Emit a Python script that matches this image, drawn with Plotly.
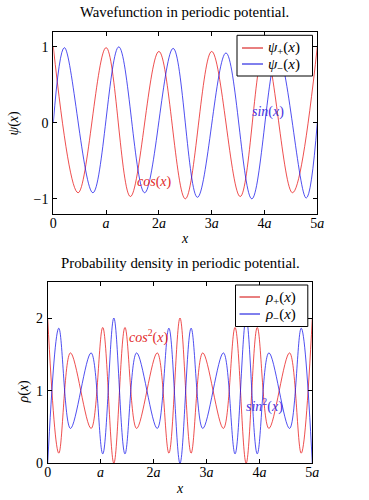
import plotly.graph_objects as go

# ---- data (x in units of the lattice constant a) ----
# top panel: wavefunctions (extrema)
psi_plus_x = [0.0, 0.47, 1.0, 1.46, 2.0, 2.5, 3.0, 3.54, 4.0, 4.53, 5.0]
psi_plus_y = [1.0, -0.92, 0.99, -0.97, 0.94, -1.0, 0.94, -0.97, 0.99, -0.92, 1.0]

psi_minus_x = [0.0, 0.21, 0.75, 1.24, 1.73, 2.27, 2.73, 3.27, 3.76, 4.25, 4.79, 5.0]
psi_minus_y = [0.0, 0.99, -0.92, 1.0, -0.92, 0.98, -0.98, 0.92, -1.0, 0.92, -0.99, 0.0]

# bottom panel: probability densities (extrema)
rho_x = [0.0, 0.21, 0.43, 0.82, 1.04, 1.25, 1.46, 1.68, 2.07, 2.29, 2.5,
         2.71, 2.93, 3.32, 3.54, 3.75, 3.96, 4.18, 4.57, 4.79, 5.0]
rho_plus_y = [2.0, 0.14, 1.52, 0.48, 1.87, 0.0, 1.87, 0.48, 1.52, 0.14, 2.0,
              0.14, 1.52, 0.48, 1.87, 0.0, 1.87, 0.48, 1.52, 0.14, 2.0]
rho_minus_y = [0.0, 1.86, 0.48, 1.52, 0.13, 2.0, 0.13, 1.52, 0.48, 1.86, 0.0,
               1.86, 0.48, 1.52, 0.13, 2.0, 0.13, 1.52, 0.48, 1.86, 0.0]

x_tickvals = [0, 1, 2, 3, 4, 5]
x_ticktext = ["0", "<i>a</i>", "2<i>a</i>", "3<i>a</i>", "4<i>a</i>", "5<i>a</i>"]
psi_tickvals = [-1, 0, 1]
psi_ticktext = ["\u22121", "0", "1"]
rho_tickvals = [0, 1, 2]
rho_ticktext = ["0", "1", "2"]

psi_names = ["<i>\u03c8</i><sub>+</sub>(<i>x</i>)", "<i>\u03c8</i><sub>\u2212</sub>(<i>x</i>)"]
rho_names = ["<i>\u03c1</i><sub>+</sub>(<i>x</i>)", "<i>\u03c1</i><sub>\u2212</sub>(<i>x</i>)"]

FONT = "Liberation Serif"
RED = "rgb(232,20,20)"
BLUE = "rgb(20,20,235)"
W, H = 369, 500

fig = go.Figure()

def line(color):
    return dict(color=color, width=0.75, shape="spline", smoothing=1)

fig.add_trace(go.Scatter(x=psi_plus_x, y=psi_plus_y, mode="lines", line=line(RED),
                         name=psi_names[0], xaxis="x", yaxis="y", showlegend=False))
fig.add_trace(go.Scatter(x=psi_minus_x, y=psi_minus_y, mode="lines", line=line(BLUE),
                         name=psi_names[1], xaxis="x", yaxis="y", showlegend=False))
fig.add_trace(go.Scatter(x=rho_x, y=rho_plus_y, mode="lines", line=line(RED),
                         name=rho_names[0], xaxis="x2", yaxis="y2", showlegend=False))
fig.add_trace(go.Scatter(x=rho_x, y=rho_minus_y, mode="lines", line=line(BLUE),
                         name=rho_names[1], xaxis="x2", yaxis="y2", showlegend=False))

axis_common = dict(showline=True, linecolor="black", linewidth=1, mirror="allticks",
                   ticks="inside", ticklen=4, tickcolor="black", tickwidth=0.8,
                   showgrid=False, zeroline=False, automargin=False,
                   tickfont=dict(family=FONT, size=14, color="black"))

def px_x(p):
    return p / W

def px_y(p):
    return (H - p) / H

fig.update_layout(
    width=W, height=H,
    margin=dict(l=0, r=0, t=0, b=0, pad=0),
    paper_bgcolor="white", plot_bgcolor="white",
    font=dict(family=FONT, size=13, color="black"),
    showlegend=False,
    xaxis=dict(domain=[px_x(53.3), px_x(317.3)], anchor="y", range=[0, 5],
               tickvals=x_tickvals, ticktext=x_ticktext, ticklabelstandoff=-4,
               **axis_common),
    yaxis=dict(domain=[px_y(214), px_y(31.7)], anchor="x", range=[-1.2, 1.2],
               tickvals=psi_tickvals, ticktext=psi_ticktext, ticklabelstandoff=1,
               **axis_common),
    xaxis2=dict(domain=[px_x(47.7), px_x(312.3)], anchor="y2", range=[0, 5],
                tickvals=x_tickvals, ticktext=x_ticktext, ticklabelstandoff=-4,
                **axis_common),
    yaxis2=dict(domain=[px_y(463.3), px_y(281.7)], anchor="x2", range=[0, 2.5],
                tickvals=rho_tickvals, ticktext=rho_ticktext, ticklabelstandoff=1,
                **axis_common),
)

def note(text, x, y, size=14, angle=0, color="black", ref=("paper", "paper"),
         xanchor="center"):
    return dict(text=text, x=x, y=y, xref=ref[0], yref=ref[1], showarrow=False,
                xanchor=xanchor, yanchor="middle", textangle=angle,
                font=dict(family=FONT, size=size, color=color))

annotations = [
    # titles
    note("Wavefunction in periodic potential.", px_x(185), px_y(12), size=14.8),
    note("Probability density in periodic potential.", px_x(180), px_y(262.5), size=14.8),
    # axis titles
    note("<i>x</i>", px_x(185), px_y(238)),
    note("<i>x</i>", px_x(180), px_y(488)),
    note("<i>\u03c8</i>(<i>x</i>)", px_x(13.5), px_y(123), angle=-90),
    note("<i>\u03c1</i>(<i>x</i>)", px_x(23.5), px_y(392), angle=-90),
    # in-plot labels
    note("<i>cos</i>(<i>x</i>)", 1.91, -0.78, color="rgb(225,40,40)", ref=("x", "y")),
    note("<i>sin</i>(<i>x</i>)", 4.06, 0.14, color="rgb(70,50,225)", ref=("x", "y")),
    note("<i>cos</i><sup>2</sup>(<i>x</i>)", 1.91, 1.75, color="rgb(225,40,40)",
         ref=("x2", "y2")),
    note("<i>sin</i><sup>2</sup>(<i>x</i>)", 4.09, 0.80, color="rgb(70,50,225)",
         ref=("x2", "y2")),
]

shapes = []

def add_legend(box, rows, line_x, text_x, names):
    x0, x1, y0, y1 = box
    shapes.append(dict(type="rect", xref="paper", yref="paper", layer="above",
                       x0=px_x(x0), x1=px_x(x1), y0=px_y(y1), y1=px_y(y0),
                       fillcolor="white", line=dict(color="black", width=1)))
    for ry, color, name in zip(rows, ["rgb(210,0,0)", "rgb(0,0,220)"], names):
        shapes.append(dict(type="line", xref="paper", yref="paper", layer="above",
                           x0=px_x(line_x[0]), x1=px_x(line_x[1]),
                           y0=px_y(ry), y1=px_y(ry), line=dict(color=color, width=1)))
        annotations.append(note(name, px_x(text_x), px_y(ry + 0.5), size=15,
                                xanchor="left"))

add_legend((237, 312.5, 35.3, 76), (48, 64), (242, 263), 265.5, psi_names)
add_legend((235.5, 307.8, 285, 326.5), (297, 314), (239.5, 260), 262.5, rho_names)

fig.update_layout(annotations=annotations, shapes=shapes)

fig.write_html("out.html",
               config={"displayModeBar": False},
               post_script="document.body.style.margin='0px';"
                           "document.documentElement.style.overflow='hidden';")
